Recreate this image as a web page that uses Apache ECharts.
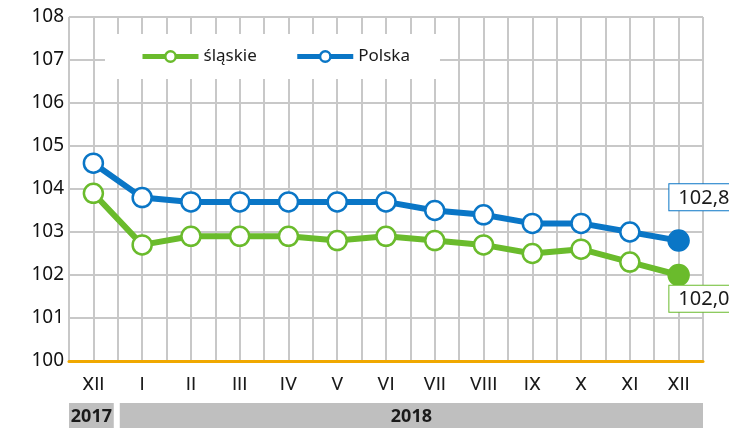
<!DOCTYPE html>
<html><head><meta charset="utf-8">
<script src="https://cdn.jsdelivr.net/npm/echarts@6/dist/echarts.min.js"></script>
<style>html,body{margin:0;padding:0;background:#fff}#c{width:729px;height:428px}</style>
</head><body><div id="c"></div>
<script>
const categories = ['XII','I','II','III','IV','V','VI','VII','VIII','IX','X','XI','XII'];
const slaskie = [103.9,102.7,102.9,102.9,102.9,102.8,102.9,102.8,102.7,102.5,102.6,102.3,102.0];
const polska  = [104.6,103.8,103.7,103.7,103.7,103.7,103.7,103.5,103.4,103.2,103.2,103.0,102.8];
const years = [{label:'2017', span:1},{label:'2018', span:12}];
const yTicks = {min:100, max:108, interval:1};

const GREEN = '#6abb2c', BLUE = '#0a76c6';
const FONT = '"Noto Sans", "DejaVu Sans", sans-serif';
const XFONT = 'Roboto, "Noto Sans", sans-serif';
const catData = categories.map((c,i)=>({value:c+'_'+i}));
const half = [];
categories.forEach((c,i)=>{half.push('a'+i); half.push('b'+i);});

function mkData(vals, color, lastLabelPos) {
  return vals.map((v,i)=>{
    if (i < vals.length-1) return v;
    return {value:v, symbol:'circle', symbolSize:20,
      itemStyle:{color:color, borderColor:color},
      label:{show:true, position:lastLabelPos, formatter:(p)=>p.value.toFixed(1).replace('.',','),
        fontFamily:FONT, fontSize:20, color:'#1a1a1a', backgroundColor:'#fff',
        borderColor:color, borderWidth:1, padding:[4,6,2,9]}};
  });
}

const chart = echarts.init(document.getElementById('c'));
const option = {
  animation:false,
  textStyle:{fontFamily:FONT},
  grid:{left:69, right:26, top:17, bottom:67},
  legend:{
    left:105, top:34, padding:[14,30,14,35], backgroundColor:'#fff',
    itemWidth:56, itemHeight:13, itemGap:38,
    lineStyle:{width:5},
    itemStyle:{borderWidth:2.5},
    textStyle:{fontFamily:FONT, fontSize:17, color:'#1a1a1a'},
    data:['śląskie','Polska']
  },
  xAxis:[{
    type:'category', data:catData, boundaryGap:true,
    axisLine:{show:true, lineStyle:{color:'#f0a800', width:3}},
    axisTick:{show:false},
    axisLabel:{fontFamily:XFONT, fontSize:19, color:'#1a1a1a', margin:15, interval:0,
      formatter:(v)=>v.split('_')[0]},
    splitLine:{show:false}, z:3
  },{
    type:'category', data:half, boundaryGap:true, position:'bottom',
    axisLine:{show:false}, axisTick:{show:false}, axisLabel:{show:false},
    splitLine:{show:true, interval:0, lineStyle:{color:'#c8c8c8', width:2}}
  }],
  yAxis:{
    type:'value', min:yTicks.min, max:yTicks.max, interval:yTicks.interval,
    axisLine:{show:false}, axisTick:{show:false},
    axisLabel:{fontFamily:FONT, fontSize:19, color:'#111', margin:5},
    splitLine:{show:true, lineStyle:{color:'#c8c8c8', width:2}}
  },
  series:[
    {name:'śląskie', type:'line', data:mkData(slaskie, GREEN, [2,22]), color:GREEN,
     symbol:'circle', symbolSize:19, lineStyle:{width:6, color:GREEN},
     itemStyle:{color:'#fff', borderColor:GREEN, borderWidth:2.5}, z:5},
    {name:'Polska', type:'line', data:mkData(polska, BLUE, [2,-45]), color:BLUE,
     symbol:'circle', symbolSize:19, lineStyle:{width:6, color:BLUE},
     itemStyle:{color:'#fff', borderColor:BLUE, borderWidth:2.5}, z:5}
  ]
};
chart.setOption(option);

// year band under the axis
const g = [];
let start = 0;
const bandTop = 403, bandH = 25;
const p0 = chart.convertToPixel({xAxisIndex:0}, catData[0].value);
const p1 = chart.convertToPixel({xAxisIndex:0}, catData[1].value);
const step = p1 - p0;
const left0 = p0 - step/2;
years.forEach((y,k)=>{
  const x0 = left0 + start*step + (k>0?2:0);
  const x1 = left0 + (start+y.span)*step - (k<years.length-1?4:0);
  g.push({type:'rect', shape:{x:x0, y:bandTop, width:x1-x0, height:bandH}, style:{fill:'#bfbfbf'}});
  g.push({type:'text', x:(x0+x1)/2, y:bandTop+bandH/2+1, style:{text:y.label, fontFamily:FONT, fontSize:18, fontWeight:'bold', fill:'#1a1a1a', align:'center', verticalAlign:'middle'}});
  start += y.span;
});
chart.setOption({graphic:g});
</script></body></html>
